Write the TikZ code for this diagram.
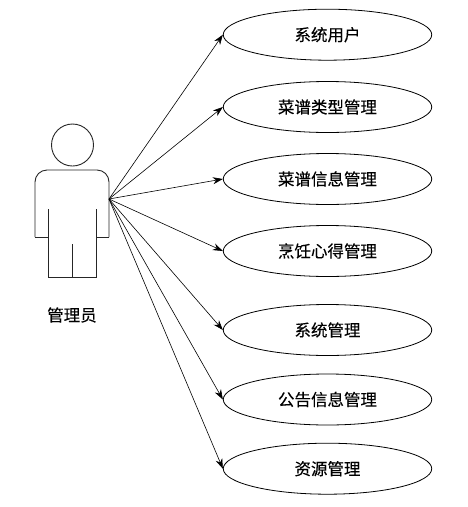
\documentclass[tikz,border=0pt]{standalone}
\usepackage{fontspec}
\setmainfont{Noto Sans CJK SC}[FakeBold=0.25]
\usepackage{xcolor}
\usetikzlibrary{shapes.geometric, arrows.meta, positioning}
\begin{document}
\begin{tikzpicture}[
    x=1pt, y=-1pt,
    usecase/.style={ellipse, draw, line width=0.8pt, minimum width=208.5pt, minimum height=51pt, inner sep=0pt, font=\fontsize{16.5}{18}\selectfont},
    arr/.style={-{Stealth[length=10pt, width=7pt]}, line width=0.6pt},
    actorline/.style={line width=0.9pt, draw=black!85}
]
\useasboundingbox (0,0) rectangle (468,507);

% Use cases
\node[usecase] (user)   at (327.5,34.7)  {系统用户};
\node[usecase] (type)   at (327.5,107)   {菜谱类型管理};
\node[usecase] (info)   at (327.5,179)   {菜谱信息管理};
\node[usecase] (cook)   at (327.5,251)   {烹饪心得管理};
\node[usecase] (system) at (327.5,330)   {系统管理};
\node[usecase] (notice) at (327.5,399.5) {公告信息管理};
\node[usecase] (res)    at (327.5,468.7) {资源管理};

% Actor
\node[circle, draw, actorline, minimum size=42pt, inner sep=0pt] (head) at (72.5,145) {};
\draw[actorline] (35,237) [rounded corners=12pt] -- (35,170) -- (109,170) -- (109,237);
\draw[actorline] (35,237) -- (48,237);
\draw[actorline] (109,237) -- (96,237);
\draw[actorline] (48,209) -- (48,277) -- (96,277) -- (96,209);
\draw[actorline] (72,244) -- (72,277);
\coordinate (hand) at (109,199);
\node[font=\fontsize{16.5}{18}\selectfont] (admin) at (72,315) {管理员};

% Actor to use cases
\draw[arr] (hand) -- (user.west);
\draw[arr] (hand) -- (type.west);
\draw[arr] (hand) -- (info.west);
\draw[arr] (hand) -- (cook.west);
\draw[arr] (hand) -- (system.west);
\draw[arr] (hand) -- (notice.west);
\draw[arr] (hand) -- (res.west);
\end{tikzpicture}
\end{document}
